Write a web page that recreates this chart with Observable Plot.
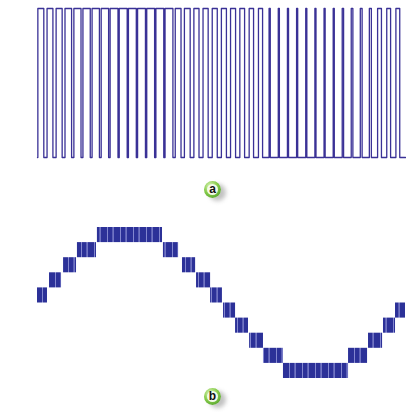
<!DOCTYPE html>
<html>
<head>
<meta charset="utf-8">
<script src="https://cdn.jsdelivr.net/npm/d3@7"></script>
<script src="https://cdn.jsdelivr.net/npm/@observablehq/plot@0.6"></script>
<style>
  html, body { margin: 0; padding: 0; background: #ffffff; }
  #wrap { position: relative; width: 406px; height: 412px; overflow: hidden; font-family: "Liberation Sans", Arial, sans-serif; }
  #wrap svg { display: block; }
  .badge { position: absolute; width: 17px; height: 17px; border-radius: 50%;
           background: radial-gradient(circle at 38% 32%, #e4f7c4 0%, #86cc4a 45%, #3f8f1f 100%);
           box-shadow: 5px 3px 4px rgba(120,120,120,0.45); }
  .badge span { position: absolute; left: 3px; top: 3px; width: 11px; height: 11px; border-radius: 50%;
                background: #f3faea; color: #111; font-weight: bold; font-size: 12px; line-height: 10px; text-align: center; }
</style>
</head>
<body>
<div id="wrap"></div>
<script>
// ---- Panel (a): sinusoidal PWM, one duty-cycle value per carrier pulse ----
const cycleMs = 19.9;              // visible time span (ms)
const carrierPeriodMs = 0.495;     // spacing of the PWM pulses
const firstPulseCenterMs = 0.18;
const pulseDuty = [0.65, 0.64, 0.66, 0.72, 0.78, 0.80, 0.80, 0.81, 0.86, 0.87,
                   0.86, 0.86, 0.86, 0.86, 0.86, 0.63, 0.63, 0.56, 0.56, 0.55,
                   0.55, 0.55, 0.52, 0.48, 0.45, 0.13, 0.12, 0.12, 0.12, 0.12,
                   0.12, 0.12, 0.12, 0.15, 0.18, 0.20, 0.22, 0.42, 0.42, 0.42];

// ---- Panel (b): stepped sine, each step = [start ms, end ms, level] ----
const stepStart = [0.00, 0.65, 1.41, 2.16, 3.24, 6.81, 7.84, 8.60, 9.36,
                   10.06, 10.71, 11.47, 12.22, 13.30, 16.82, 17.90, 18.71, 19.36];
const stepEnd   = [0.54, 1.30, 2.11, 3.19, 6.76, 7.63, 8.55, 9.36, 10.00,
                   10.71, 11.41, 12.22, 13.30, 16.82, 17.85, 18.66, 19.36, 19.90];
const stepLevel = [1, 2, 3, 4, 5, 4, 3, 2, 1,
                   -1, -2, -3, -4, -5, -4, -3, -2, -1];

const badgeLabels = ["a", "b"];

// build the PWM line from the duty values
const pwm = [{t: 0, v: 0}];
pulseDuty.forEach((d, k) => {
  const c = firstPulseCenterMs + k * carrierPeriodMs;
  const rise = c - d * carrierPeriodMs / 2;
  const fall = c + d * carrierPeriodMs / 2;
  pwm.push({t: rise, v: 0}, {t: rise, v: 1}, {t: fall, v: 1}, {t: fall, v: 0});
});
pwm.push({t: cycleMs, v: 0});

const steps = stepLevel.map((L, i) => ({
  x1: stepStart[i], x2: stepEnd[i],
  y1: L > 0 ? L - 1 : L + 1, y2: L
}));

const wrap = document.getElementById("wrap");

const plotA = Plot.plot({
  width: 406, height: 200,
  marginLeft: 37, marginRight: 1, marginTop: 8, marginBottom: 43,
  x: {domain: [0, cycleMs], axis: null},
  y: {domain: [0, 1], axis: null},
  marks: [
    Plot.line(pwm, {x: "t", y: "v", stroke: "#3a3196", strokeWidth: 1.3, curve: "linear"})
  ]
});
wrap.appendChild(plotA);

const plotB = Plot.plot({
  width: 406, height: 212,
  marginLeft: 37, marginRight: 1, marginTop: 27, marginBottom: 34,
  x: {domain: [0, cycleMs], axis: null},
  y: {domain: [-5, 5], axis: null},
  marks: [
    Plot.rectX(steps, {x1: "x1", x2: "x2", y1: "y1", y2: "y2", fill: "url(#pwmStripes)", inset: 0})
  ]
});
// stripe pattern (style only)
const ns = "http://www.w3.org/2000/svg";
const defs = document.createElementNS(ns, "defs");
const pat = document.createElementNS(ns, "pattern");
pat.setAttribute("id", "pwmStripes");
pat.setAttribute("patternUnits", "userSpaceOnUse");
pat.setAttribute("width", "13");
pat.setAttribute("height", "20");
const base = document.createElementNS(ns, "rect");
base.setAttribute("width", "13"); base.setAttribute("height", "20"); base.setAttribute("fill", "#2c3198");
pat.appendChild(base);
[[3, 0.9], [8.5, 1.2]].forEach(([x, w]) => {
  const r = document.createElementNS(ns, "rect");
  r.setAttribute("x", x); r.setAttribute("width", w); r.setAttribute("height", "20");
  r.setAttribute("fill", "#8d91d6");
  pat.appendChild(r);
});
defs.appendChild(pat);
plotB.insertBefore(defs, plotB.firstChild);
wrap.appendChild(plotB);

// letter badges below each panel
const badgePos = [{left: 204, top: 181}, {left: 204, top: 388}];
badgeLabels.forEach((lab, i) => {
  const b = document.createElement("div");
  b.className = "badge";
  b.style.left = badgePos[i].left + "px";
  b.style.top = badgePos[i].top + "px";
  const s = document.createElement("span");
  s.textContent = lab;
  b.appendChild(s);
  wrap.appendChild(b);
});
</script>
</body>
</html>
